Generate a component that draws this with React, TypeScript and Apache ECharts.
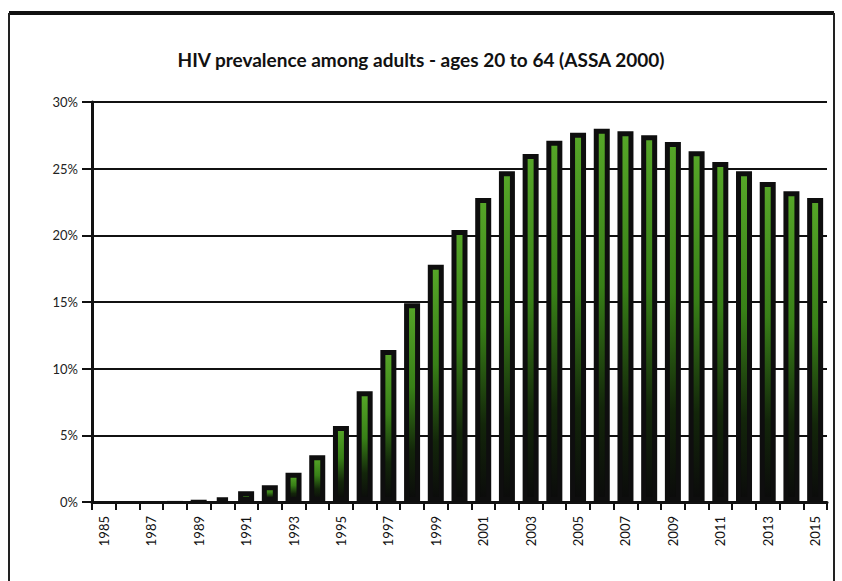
import React, { useEffect, useRef } from "react";
import * as echarts from "echarts";

// Years shown on the category axis
const years: string[] = [
  "1985", "1986", "1987", "1988", "1989", "1990", "1991", "1992", "1993", "1994",
  "1995", "1996", "1997", "1998", "1999", "2000", "2001", "2002", "2003", "2004",
  "2005", "2006", "2007", "2008", "2009", "2010", "2011", "2012", "2013", "2014", "2015",
];

// HIV prevalence (%) among adults aged 20-64
const prevalence: number[] = [
  0.0, 0.01, 0.03, 0.08, 0.17, 0.35, 0.8, 1.25, 2.2, 3.5,
  5.7, 8.3, 11.4, 14.9, 17.8, 20.4, 22.8, 24.8, 26.1, 27.1,
  27.7, 28.0, 27.8, 27.5, 27.0, 26.3, 25.5, 24.8, 24.0, 23.3, 22.8,
];

const chartTitle = "HIV prevalence among adults - ages 20 to 64 (ASSA 2000)";

export default function App() {
  const ref = useRef<HTMLDivElement>(null);

  useEffect(() => {
    if (!ref.current) return;
    const chart = echarts.init(ref.current, null, { renderer: "svg" });
    const font = "Lato, 'DejaVu Sans', sans-serif";

    const greenFill = new echarts.graphic.LinearGradient(0, 0, 0, 1, [
      { offset: 0, color: "#56a628" },
      { offset: 0.42, color: "#388017" },
      { offset: 0.75, color: "#13260a" },
      { offset: 1, color: "#0b0b0b" },
    ]);

    // Very small values are drawn as plain dark slivers without the outline
    const barData = prevalence.map((v) =>
      v < 0.3
        ? { value: v, itemStyle: { borderWidth: 0, color: "#0e0e0e" } }
        : v
    );

    chart.setOption({
      animation: false,
      backgroundColor: "#ffffff",
      title: {
        text: chartTitle,
        left: "center",
        top: 45,
        textStyle: {
          fontFamily: font,
          fontSize: 19,
          fontWeight: "bold",
          color: "#111111",
        },
      },
      grid: { left: 92, right: 15, top: 102, bottom: 79, containLabel: false },
      xAxis: {
        type: "category",
        data: years,
        boundaryGap: true,
        axisLine: { lineStyle: { color: "#111111", width: 3 } },
        axisTick: {
          show: true,
          interval: 0,
          alignWithLabel: false,
          length: 8,
          lineStyle: { color: "#111111", width: 2 },
        },
        axisLabel: {
          interval: 1,
          rotate: 90,
          margin: 14,
          fontFamily: font,
          fontSize: 13,
          color: "#111111",
        },
      },
      yAxis: {
        type: "value",
        min: 0,
        max: 30,
        interval: 5,
        axisLine: { show: true, lineStyle: { color: "#111111", width: 3 } },
        axisTick: { show: true, length: 10, lineStyle: { color: "#111111", width: 2 } },
        splitLine: { show: true, lineStyle: { color: "#111111", width: 2 } },
        axisLabel: {
          formatter: "{value}%",
          margin: 14,
          fontFamily: font,
          fontSize: 13,
          color: "#222222",
        },
      },
      series: [
        {
          type: "bar",
          data: barData,
          barWidth: 16,
          itemStyle: {
            borderColor: "#0e0e0e",
            borderWidth: 5,
            color: greenFill,
          },
        },
      ],
      graphic: [
        {
          type: "line",
          shape: { x1: 9, y1: 13, x2: 834, y2: 13 },
          style: { stroke: "#111111", lineWidth: 4 },
        },
        {
          type: "line",
          shape: { x1: 9, y1: 13, x2: 9, y2: 590 },
          style: { stroke: "#222222", lineWidth: 2 },
        },
        {
          type: "line",
          shape: { x1: 834, y1: 13, x2: 834, y2: 590 },
          style: { stroke: "#222222", lineWidth: 2 },
        },
      ],
    });

    return () => chart.dispose();
  }, []);

  return (
    <div
      ref={ref}
      style={{ position: "absolute", left: 0, top: 0, width: 842, height: 581 }}
    />
  );
}
